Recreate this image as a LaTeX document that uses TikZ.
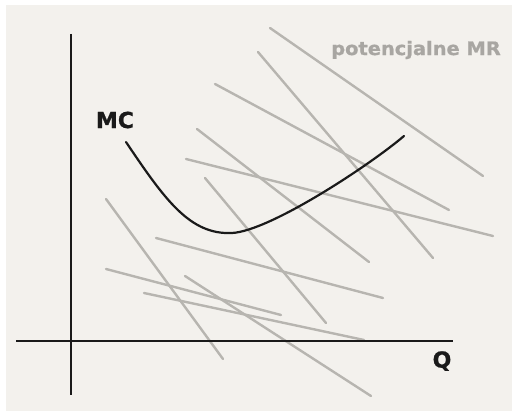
\documentclass[tikz,border=0pt]{standalone}
\usepackage{fontspec}
\setmainfont{DejaVu Sans}
\newfontfamily\lblfont{DejaVu Sans}[UprightFont=* Bold, FakeBold=0.8]
\definecolor{bgc}{HTML}{F3F1ED}
\definecolor{mrgray}{HTML}{B7B5B0}
\definecolor{txtgray}{HTML}{A8A6A2}
\definecolor{ink}{HTML}{1A1A1A}
\begin{document}
\begin{tikzpicture}[x=1pt,y=-1pt,
  mrline/.style={draw=mrgray,line width=2.4pt,line cap=round},
  axis/.style={draw=ink,line width=2.2pt},
  mccurve/.style={draw=ink,line width=2.2pt,line cap=round},
  lbl/.style={font=\lblfont\fontsize{22}{22}\selectfont,text=ink,inner sep=0pt}]
\useasboundingbox (0,0) rectangle (512,411);
\fill[white] (0,0) rectangle (512,411);
\fill[bgc] (6,5) rectangle (512,411);
% potential MR lines
\coordinate (a1) at (270,28);  \coordinate (b1) at (483,176);
\coordinate (a2) at (258,52);  \coordinate (b2) at (433,258);
\coordinate (a3) at (215,84);  \coordinate (b3) at (449,210);
\coordinate (a4) at (197,129); \coordinate (b4) at (369,262);
\coordinate (a5) at (186,159); \coordinate (b5) at (493,236);
\coordinate (a6) at (205,178); \coordinate (b6) at (326,323);
\coordinate (a7) at (106,199); \coordinate (b7) at (223,359);
\coordinate (a8) at (156,238); \coordinate (b8) at (383,298);
\coordinate (a9) at (106,269); \coordinate (b9) at (281,315);
\coordinate (a10) at (185,276); \coordinate (b10) at (371,396);
\coordinate (a11) at (144,293); \coordinate (b11) at (364,340);
\foreach \i in {1,...,11} \draw[mrline] (a\i) -- (b\i);
% axes
\coordinate (ytop) at (71,34);
\coordinate (ybot) at (71,395);
\coordinate (xl) at (16,341);
\coordinate (xr) at (453,341);
\draw[axis] (ytop) -- (ybot);
\draw[axis] (xl) -- (xr);
% MC curve
\coordinate (mcs) at (126,142);
\coordinate (mcm) at (232,233);
\coordinate (mce) at (404,136);
\draw[mccurve] (mcs) .. controls (165,200) and (190,235) .. (mcm)
  .. controls (270,231) and (370,165) .. (mce);
% labels
\node[lbl] (mc) at (115,120) {MC};
\node[lbl] (q) at (442,361) {Q};
\node[font=\lblfont\fontsize{18.5}{18.5}\selectfont,text=txtgray,inner sep=0pt] (mr) at (416,50) {\scalebox{1.05}[1]{potencjalne MR}};
\end{tikzpicture}
\end{document}
